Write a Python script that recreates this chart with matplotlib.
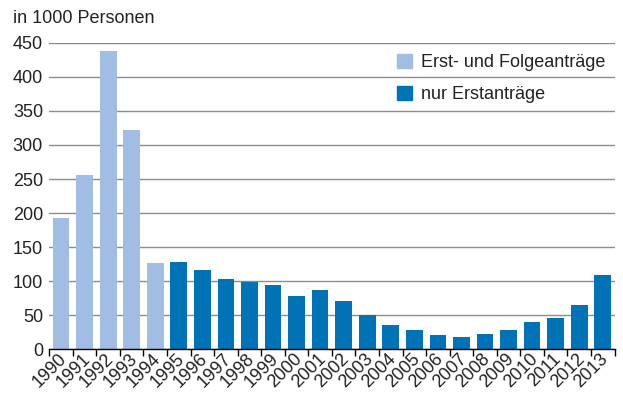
import matplotlib
matplotlib.use('Agg')
import matplotlib.pyplot as plt
from matplotlib.patches import Patch
import numpy as np

plt.rcParams['font.family'] = ['Liberation Sans', 'DejaVu Sans']

# Asylanträge in Deutschland, in 1000 Personen
years = [str(y) for y in range(1990, 2014)]
erst_und_folge = [193, 256, 438, 322, 127]          # 1990-1994
nur_erst = [128, 116, 104, 99, 95, 79, 88, 71, 51, 36, 29, 21, 19, 22,
            28, 41, 46, 65, 110]                     # 1995-2013

LIGHT = '#a2bde4'
DARK = '#0073b7'
GRID = '#8c8c8c'
FS = 13

values = erst_und_folge + nur_erst
colors = [LIGHT] * len(erst_und_folge) + [DARK] * len(nur_erst)

fig = plt.figure(figsize=(6.23, 3.95), dpi=100)
ax = fig.add_axes([0.0791, 0.1152, 0.9073, 0.7767])

x = np.arange(len(years))
ax.bar(x, values, width=0.71, color=colors, zorder=3)

ax.set_xlim(-0.5, len(years) - 0.5)
ax.set_ylim(0, 450)
ax.set_yticks(np.arange(0, 451, 50))
ax.yaxis.grid(True, color=GRID, linewidth=1.0, zorder=0)
ax.tick_params(axis='y', length=0, pad=4.5, labelsize=FS, colors='#222222')

# year labels centred on bars, tick marks between categories
ax.set_xticks(x + 0.12)
ax.set_xticklabels(years, rotation=45, ha='right', va='center',
                   rotation_mode='anchor', fontsize=FS, color='#222222')
ax.tick_params(axis='x', which='major', length=0, pad=5)
ax.set_xticks(np.arange(-0.5, len(years), 1), minor=True)
ax.tick_params(axis='x', which='minor', length=5, width=1.0, color='black')

for side in ('top', 'right', 'left'):
    ax.spines[side].set_visible(False)
ax.spines['bottom'].set_color('black')
ax.spines['bottom'].set_linewidth(1.0)
ax.spines['bottom'].set_zorder(4)

fig.text(0.021, 0.953, 'in 1000 Personen', fontsize=FS, color='#222222',
         ha='left', va='center')

handles = [Patch(color=LIGHT, label='Erst- und Folgeanträge'),
           Patch(color=DARK, label='nur Erstanträge')]
fig.legend(handles=handles, loc='upper left', bbox_to_anchor=(0.637, 0.864),
           frameon=False, fontsize=FS, handlelength=0.85, handleheight=0.85,
           handletextpad=0.5, labelspacing=0.82, borderpad=0, borderaxespad=0,
           labelcolor='#222222')

fig.savefig('out.png', dpi=100)
